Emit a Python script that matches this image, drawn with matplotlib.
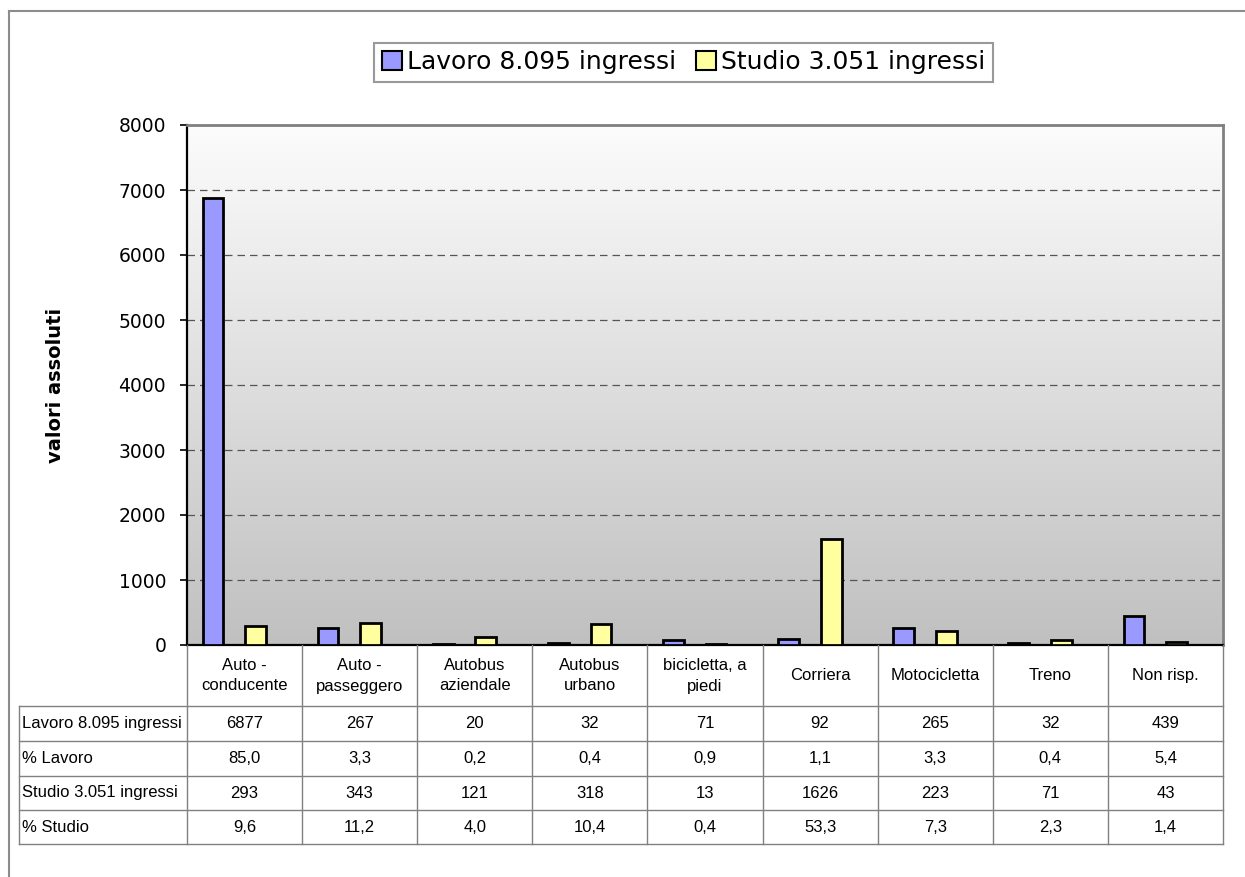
import numpy as np
import matplotlib.pyplot as plt
from matplotlib.patches import Patch
from matplotlib.lines import Line2D
from matplotlib.colors import LinearSegmentedColormap

categorie = ["Auto -\nconducente", "Auto -\npasseggero", "Autobus\naziendale",
             "Autobus\nurbano", "bicicletta, a\npiedi", "Corriera",
             "Motocicletta", "Treno", "Non risp."]
lavoro = [6877, 267, 20, 32, 71, 92, 265, 32, 439]
perc_lavoro = [85.0, 3.3, 0.2, 0.4, 0.9, 1.1, 3.3, 0.4, 5.4]
studio = [293, 343, 121, 318, 13, 1626, 223, 71, 43]
perc_studio = [9.6, 11.2, 4.0, 10.4, 0.4, 53.3, 7.3, 2.3, 1.4]
nome_lavoro = "Lavoro 8.095 ingressi"
nome_studio = "Studio 3.051 ingressi"
righe = [nome_lavoro, "% Lavoro", nome_studio, "% Studio"]
y_ticks = [0, 1000, 2000, 3000, 4000, 5000, 6000, 7000, 8000]

col_lavoro = "#9999ff"
col_studio = "#ffffa0"
grigio = "#808080"
font_tab = ["Liberation Sans Narrow", "Liberation Sans", "DejaVu Sans"]


def virgola(v):
    return f"{v:.1f}".replace(".", ",")


W, H = 1245, 877
AX_L, AX_R, AX_T, AX_B = 187, 1223, 125, 645
fig = plt.figure(figsize=(W / 100, H / 100), dpi=100)
ax = fig.add_axes([AX_L / W, 1 - AX_B / H, (AX_R - AX_L) / W, (AX_B - AX_T) / H])

# cornice esterna (solo lato sinistro e superiore visibili)
fig.add_artist(Line2D([9 / W, 9 / W], [0, 1 - 11 / H], transform=fig.transFigure,
                      color="#8c8c8c", lw=1.5))
fig.add_artist(Line2D([9 / W, 1], [1 - 11 / H, 1 - 11 / H], transform=fig.transFigure,
                      color="#8c8c8c", lw=1.5))

# sfondo sfumato dell'area del grafico
n = len(categorie)
grad = np.linspace(0, 1, 256).reshape(-1, 1)
cmap = LinearSegmentedColormap.from_list("sfondo", ["#c0c0c0", "#fcfcfc"])
ax.imshow(grad, cmap=cmap, extent=[0, n, 0, y_ticks[-1]], origin="lower",
          aspect="auto", zorder=0.2)

x = np.arange(n)
ax.bar(x + 0.226, lavoro, width=0.18, color=col_lavoro, edgecolor="black",
       linewidth=2, zorder=3)
ax.bar(x + 0.596, studio, width=0.18, color=col_studio, edgecolor="black",
       linewidth=2, zorder=3)

ax.set_xlim(0, n)
ax.set_ylim(y_ticks[0], y_ticks[-1])
ax.set_yticks(y_ticks)
ax.set_xticks([])
ax.tick_params(axis="y", direction="out", length=5, width=1.2, pad=10, labelsize=13.5)
ax.set_axisbelow(True)
ax.yaxis.grid(True, linestyle=(0, (6, 4)), color="#555555", lw=0.9)

ax.spines["left"].set_color("black")
ax.spines["left"].set_linewidth(1.6)
ax.spines["bottom"].set_color("black")
ax.spines["bottom"].set_linewidth(1.6)
for s in ["top", "right"]:
    ax.spines[s].set_color(grigio)
    ax.spines[s].set_linewidth(2)

ax.set_ylabel("valori assoluti", fontsize=14, fontweight="bold")
ax.yaxis.set_label_coords((65 - AX_L) / (AX_R - AX_L), 0.5)

# tabella dati disegnata sotto l'asse: x in unità dati, y in coordinate asse
tr = ax.get_xaxis_transform()


def ya(py):
    return (AX_B - py) / (AX_B - AX_T)


x_lab = (19 - AX_L) / (AX_R - AX_L) * n   # bordo sinistro colonna etichette
y_righe = [645, 706, 741, 776, 810, 844]  # bordi delle righe (pixel)
celle = [[str(v) for v in lavoro],
         [virgola(v) for v in perc_lavoro],
         [str(v) for v in studio],
         [virgola(v) for v in perc_studio]]

lk = dict(color=grigio, lw=1, transform=tr, clip_on=False, zorder=5)
for py in y_righe[1:]:
    ax.plot([x_lab, n], [ya(py), ya(py)], **lk)
for i in range(n + 1):
    ax.plot([i, i], [ya(y_righe[0]), ya(y_righe[-1])], **lk)
ax.plot([x_lab, x_lab], [ya(y_righe[1]), ya(y_righe[-1])], **lk)

tk = dict(transform=tr, clip_on=False, fontsize=12, family=font_tab, va="center")
yc = (ya(y_righe[0]) + ya(y_righe[1])) / 2
for i, cat in enumerate(categorie):
    ax.text(i + 0.5, yc, cat, ha="center", linespacing=1.5, **tk)
for r, (nome, valori) in enumerate(zip(righe, celle)):
    yc = (ya(y_righe[r + 1]) + ya(y_righe[r + 2])) / 2
    ax.text(x_lab + 0.03, yc, nome, ha="left", **tk)
    for i, v in enumerate(valori):
        ax.text(i + 0.5, yc, v, ha="center", **tk)

# legenda
maniglie = [Patch(facecolor=col_lavoro, edgecolor="black", lw=1.5, label=nome_lavoro),
            Patch(facecolor=col_studio, edgecolor="black", lw=1.5, label=nome_studio)]
leg = fig.legend(handles=maniglie, loc="center", bbox_to_anchor=(683.5 / W, 1 - 62.5 / H),
                 ncol=2, frameon=True, fancybox=False, edgecolor=grigio, fontsize=18,
                 handlelength=0.8, handleheight=0.8, handletextpad=0.2,
                 columnspacing=0.8, borderpad=0.3, borderaxespad=0)
leg.get_frame().set_linewidth(1.5)

fig.savefig("out.png", dpi=100)
